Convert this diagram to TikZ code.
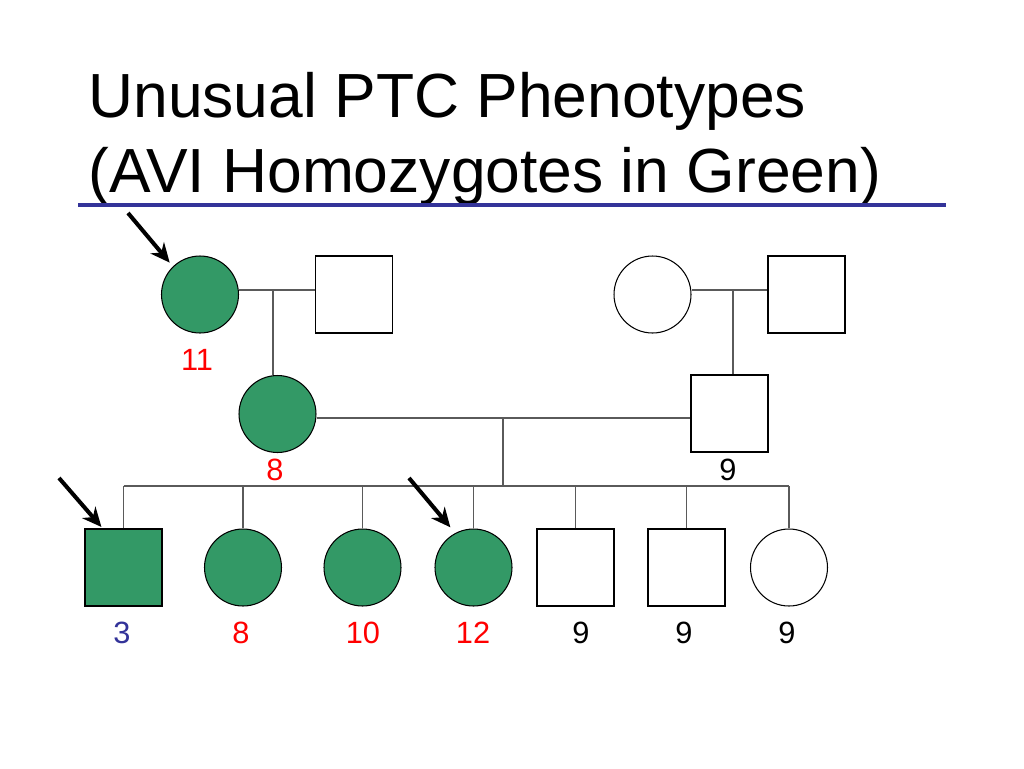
\documentclass[tikz,border=0pt]{standalone}
\usepackage{fontspec}
\setmainfont{Liberation Sans}
\usetikzlibrary{arrows.meta}

\definecolor{avigreen}{RGB}{51,153,102}
\definecolor{rulenavy}{RGB}{51,51,153}
\definecolor{linegray}{RGB}{90,90,90}
\definecolor{scorered}{RGB}{255,0,0}
\definecolor{scoreblue}{RGB}{51,51,153}

\tikzset{
  person/.style={draw=black,line width=0.6pt,minimum size=1.54cm,inner sep=0pt,fill=white},
  female/.style={person,circle},
  male/.style={person,rectangle},
  avi/.style={fill=avigreen},
  link/.style={draw=linegray,line width=0.9pt},
  pointer/.style={line width=2.3pt,-{Stealth[length=11pt,width=10pt]}},
  score/.style={font=\fontsize{17.5}{20}\selectfont,inner sep=0pt},
  headline/.style={font=\fontsize{35.5}{40}\selectfont,inner sep=0pt,anchor=base west}
}

\begin{document}
\begin{tikzpicture}[x=0.02cm,y=-0.02cm]
		\useasboundingbox (0,0) rectangle (1024,768);
		% title
		\node[headline] (title1) at (88,117) {Unusual PTC Phenotypes};
		\node[headline] (title2) at (88,192) {(AVI Homozygotes in Green)};
		\draw[rulenavy,line width=0.08cm] (78,205) -- (946,205);
		% generation I
		\node[female,avi] (I1) at (200,294.5) {};
		\node[male] (I2) at (354,294.5) {};
		\node[female] (I3) at (652.5,294.5) {};
		\node[male] (I4) at (806.5,294.5) {};
		% generation II
		\node[female,avi] (II1) at (277.5,414) {};
		\node[male] (II2) at (729.5,413.5) {};
		% generation III
		\node[male,avi] (III1) at (123.5,567.5) {};
		\node[female,avi] (III2) at (243,567.5) {};
		\node[female,avi] (III3) at (362.5,567.5) {};
		\node[female,avi] (III4) at (473.5,567.5) {};
		\node[male] (III5) at (575.5,567.5) {};
		\node[male] (III6) at (686.5,567.5) {};
		\node[female] (III7) at (789,567.5) {};
		% lines
		\coordinate (m1) at (273,290);
		\coordinate (m2) at (733,290);
		\coordinate (m3) at (503,418);
		\coordinate (sib) at (503,486);
		\draw[link] (I1.east |- m1) -- (I2.west |- m1);
		\draw[link] (m1) -- (m1 |- II1.north);
		\draw[link] (I3.east |- m2) -- (I4.west |- m2);
		\draw[link] (m2) -- (m2 |- II2.north);
		\draw[link] (II1.east |- m3) -- (II2.west |- m3);
		\draw[link] (m3) -- (sib);
		\draw[link] (III1.north |- sib) -- (III7.north |- sib);
		\foreach \k in {1,...,7}
			\draw[link] (III\k.north) -- (III\k.north |- sib);
		% scores
		\node[score,text=scorered] (s11) at (197,360) {11};
		\node[score,text=scorered] (s8a) at (275,470) {8};
		\node[score] (s9a) at (728,470) {9};
		\node[score,text=scoreblue] (s3) at (122,633) {3};
		\node[score,text=scorered] (s8b) at (241,633) {8};
		\node[score,text=scorered] (s10) at (363,633) {10};
		\node[score,text=scorered] (s12) at (473,633) {12};
		\node[score] (s9b) at (581,633) {9};
		\node[score] (s9c) at (684,633) {9};
		\node[score] (s9d) at (787,633) {9};
		% probands
		\coordinate (t1) at (128,213);
		\coordinate (t2) at (59,478);
		\coordinate (t3) at (409,478);
		\draw[pointer,shorten >=0.1cm] (t1) -- (I1.134);
		\draw[pointer,shorten >=0.04cm] (t2) -- (III1.118);
		\draw[pointer,shorten >=0.15cm] (t3) -- (III4.118);
	\end{tikzpicture}
\end{document}
